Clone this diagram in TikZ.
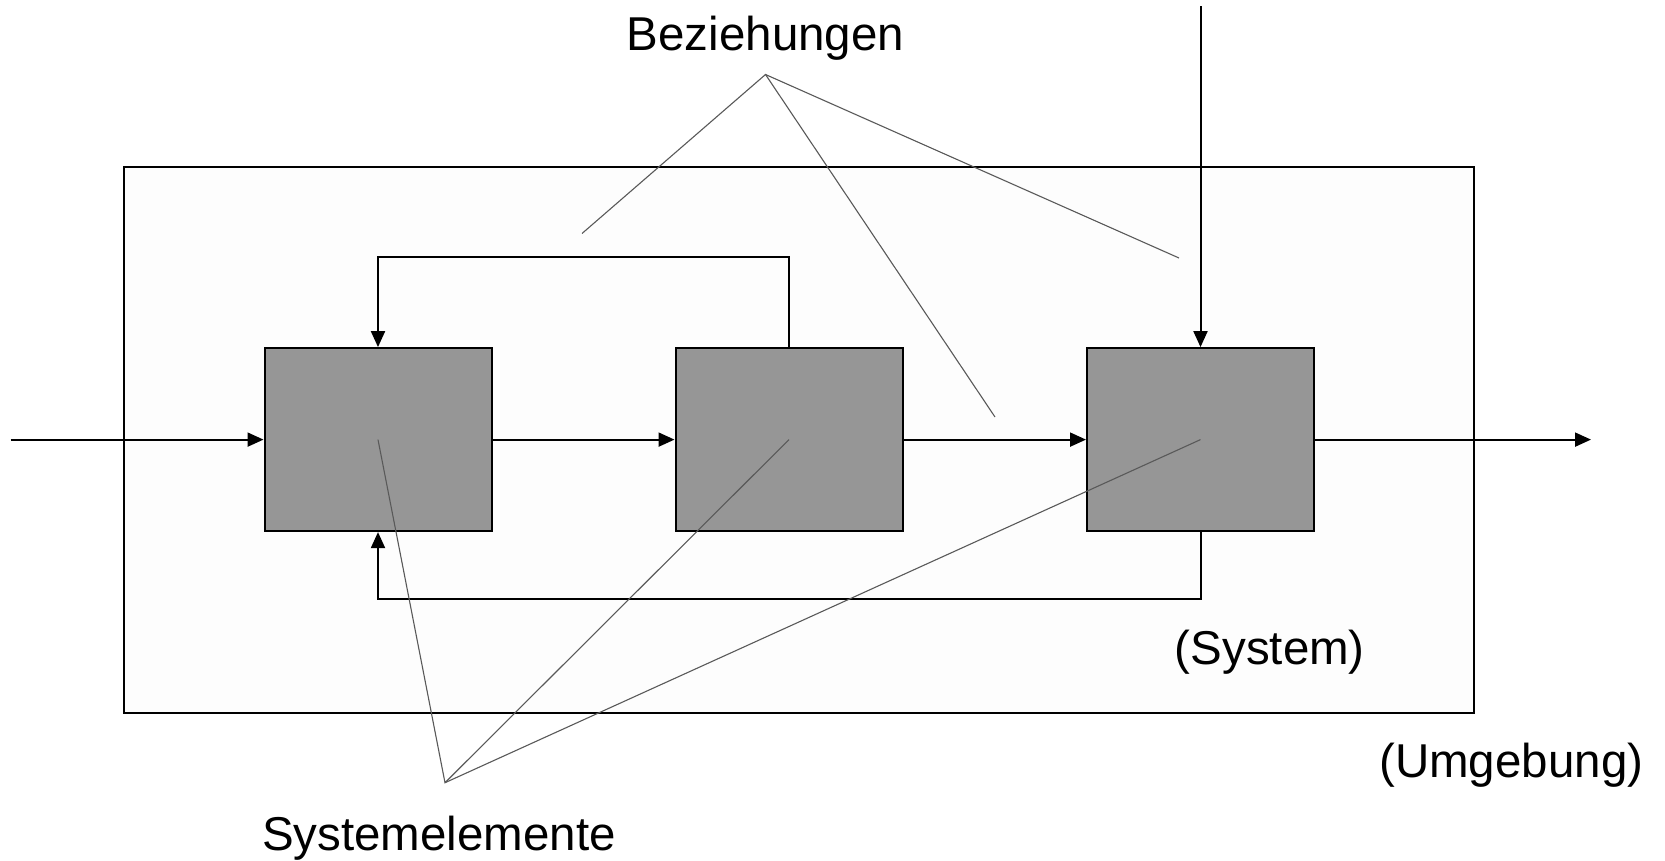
\documentclass[tikz,border=0pt]{standalone}
\usepackage{fontspec}
\setmainfont{Liberation Sans}
\usetikzlibrary{arrows.meta}
\definecolor{elemgray}{HTML}{969696}
\definecolor{sysfill}{HTML}{FDFDFD}
\tikzset{
  sysbox/.style={draw=black, fill=sysfill, line width=2pt, inner sep=0pt,
    minimum width=1350pt, minimum height=546pt},
  elembox/.style={draw=black, fill=elemgray, line width=2pt, inner sep=0pt,
    minimum width=227pt, minimum height=183pt},
  flow/.style={line width=2pt, -{Triangle[length=16pt,width=14pt]}},
  pointer/.style={line width=1.1pt, draw=black!65},
  lbl/.style={inner sep=0pt, anchor=base, font=\fontsize{47.5}{57}\selectfont}
}
\begin{document}
\begin{tikzpicture}[x=1pt,y=-1pt]
\useasboundingbox[fill=white] (0,0) rectangle (1665,860);
% system boundary
\node[sysbox] (sys) at (799,439.6) {};
% elements
\node[elembox] (b1) at (378,439.6) {};
\node[elembox] (b2) at (789,439.6) {};
\node[elembox] (b3) at (1200.5,439.6) {};
% free ends
\coordinate (in) at (10.6,439.6);
\coordinate (out) at (1591,439.6);
\coordinate (topin) at (1200.5,6);
\coordinate (tp) at (0,257);
\coordinate (bt) at (0,599);
% main flow
\draw[flow] (in) -- (b1.west);
\draw[flow] (b1.east) -- (b2.west);
\draw[flow] (b2.east) -- (b3.west);
\draw[flow] (b3.east) -- (out);
\draw[flow] (topin) -- (b3.north);
% feedback loops
\draw[flow] (b2.north) |- (b1.north |- tp) -- (b1.north);
\draw[flow] (b3.south) |- (b1.south |- bt) -- (b1.south);
% labels
\node[lbl] (bez) at (765.5,50) {Beziehungen};
\node[lbl] (sel) at (439,850.5) {Systemelemente};
\node[lbl] (systxt) at (1269.8,664) {(System)};
\node[lbl] (umg) at (1511.3,777.5) {(Umgebung)};
% pointer lines
\coordinate (ba) at (765.5,74.5);
\coordinate (r1) at (582,233.5);
\coordinate (r2) at (995,417);
\coordinate (r3) at (1179,258);
\draw[pointer] (r1) -- (ba) -- (r2);
\draw[pointer] (ba) -- (r3);
\coordinate (sa) at (445,782.7);
\draw[pointer] (b1.center) -- (sa) -- (b2.center);
\draw[pointer] (sa) -- (b3.center);
\end{tikzpicture}
\end{document}
